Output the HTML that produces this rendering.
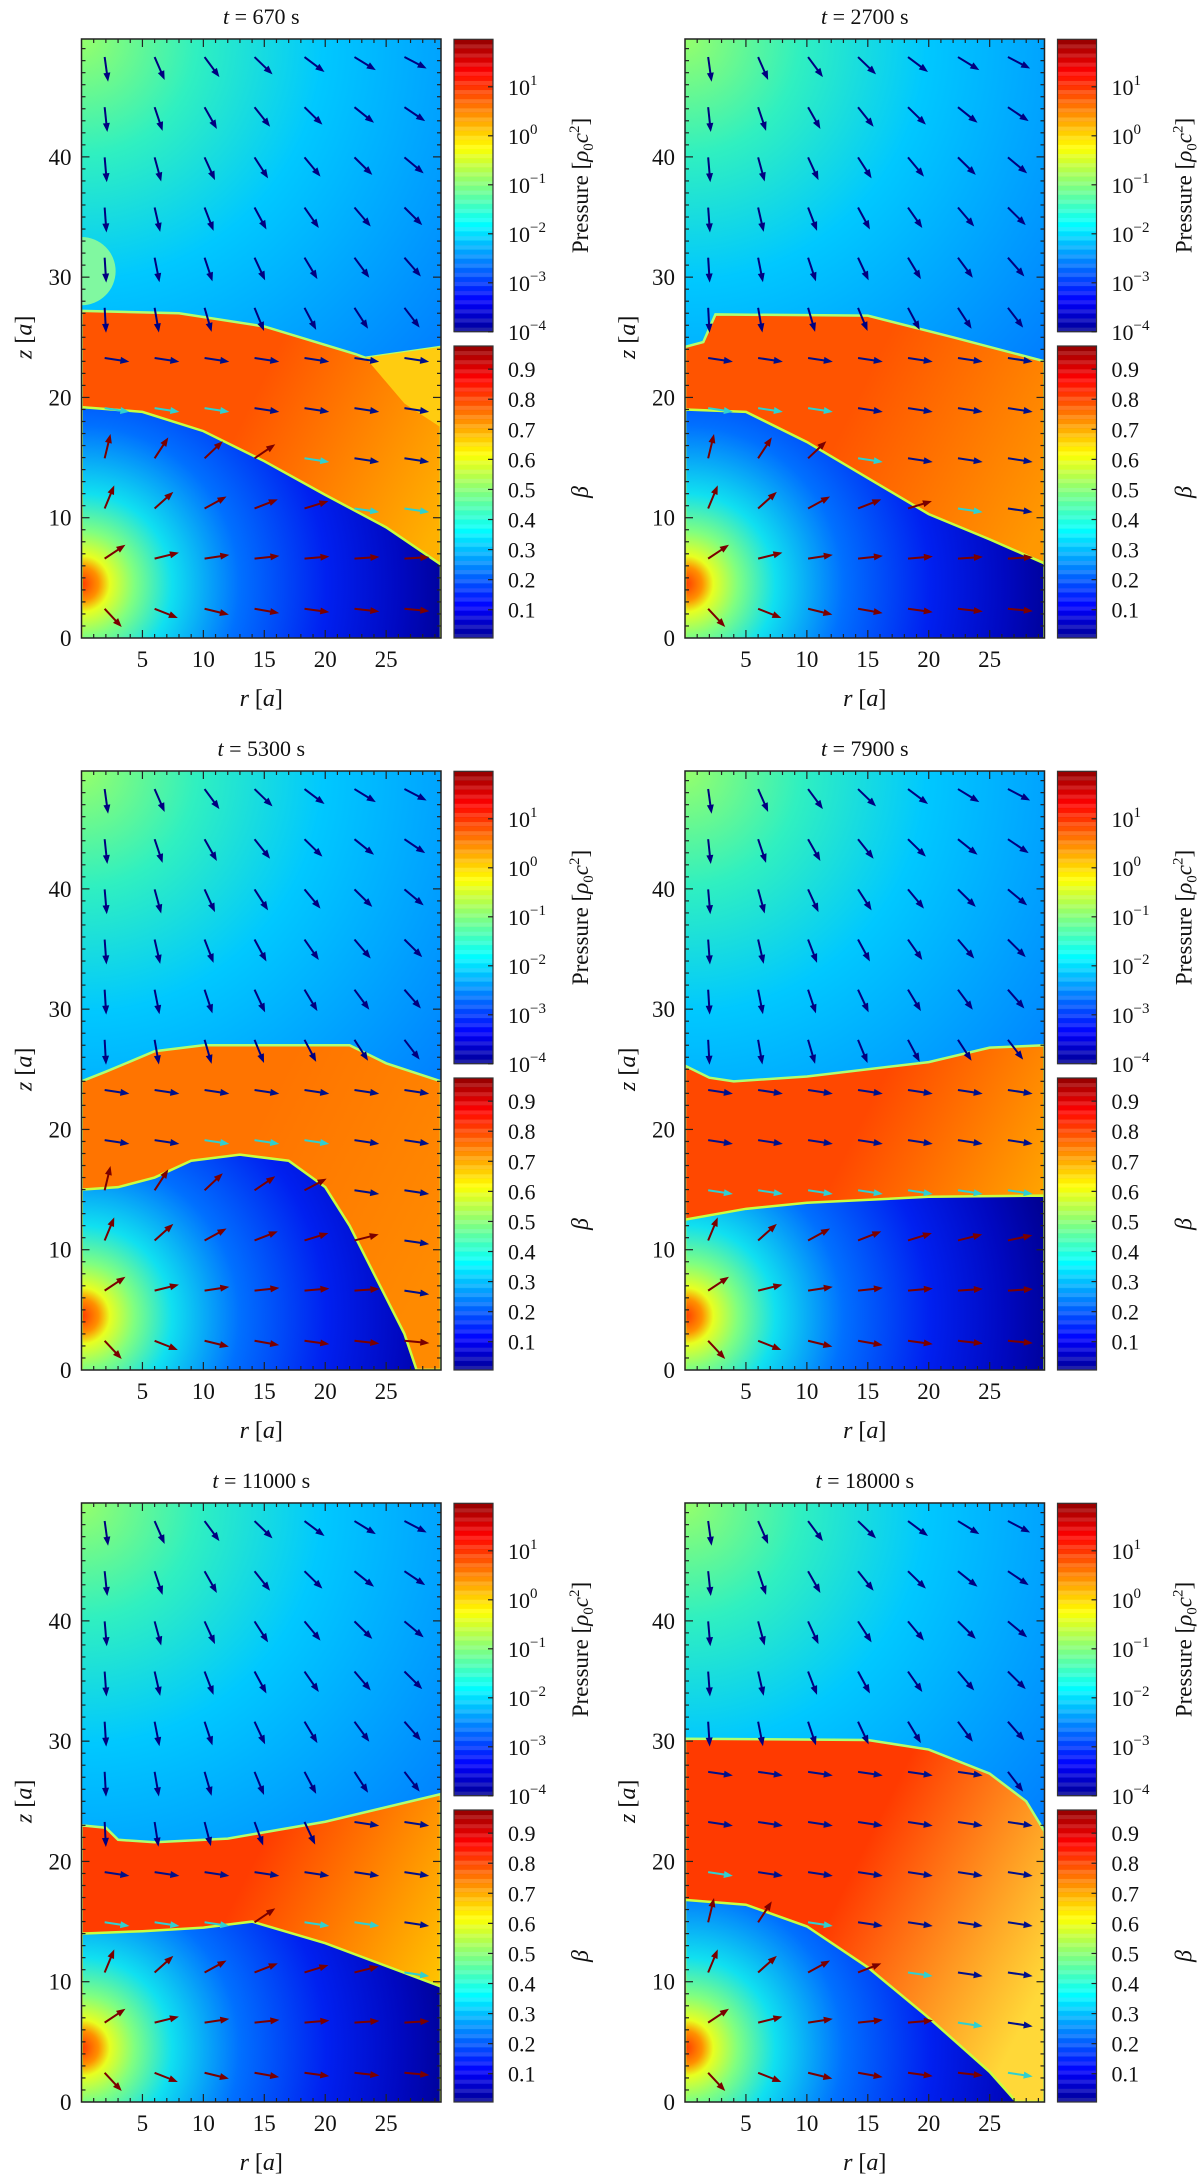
<!DOCTYPE html>
<html><head><meta charset="utf-8">
<style>
html,body{margin:0;padding:0;background:#fff;}
svg{display:block;}
text{font-family:"Liberation Serif",serif;fill:#111;}
</style></head>
<body>
<svg id="fig" width="1200" height="2174" viewBox="0 0 1200 2174" xmlns="http://www.w3.org/2000/svg">
<defs id="defs"></defs>
</svg>
<script>
// ---- data ----
const panelTitles = ["670", "2700", "5300", "7900", "11000", "18000"];
const upperEdges = [
  [[0,27.2],[8,27],[15,25.9],[22.5,23.6],[23.3,23.3],[29.5,24.2]],
  [[0,24.2],[1.5,24.6],[2.5,26.9],[15,26.8],[22,25],[29.5,23]],
  [[0,24],[2,24.8],[6,26.5],[10,27],[22,27],[25,25.5],[29.5,24]],
  [[0,25.3],[2,24.3],[4,24],[10,24.4],[20,25.6],[25,26.8],[29.5,27]],
  [[0,23],[2,22.8],[3,21.8],[6,21.6],[12,21.9],[20,23.3],[29.5,25.6]],
  [[0,30.2],[15,30.1],[20,29.3],[25,27.3],[28,25],[29.5,22.5]]
];
const lowerEdges = [
  [[0,19.2],[5,18.8],[10,17.2],[15,14.7],[20,11.9],[25,9.2],[29.5,6.1]],
  [[0,19],[5,18.8],[10,16.3],[15,13.3],[20,10.3],[25,8.2],[29.5,6.2]],
  [[0,15],[3,15.2],[6,16],[9,17.4],[13,17.9],[17,17.4],[20,15.2],[22,12],[24,8],[26.5,3],[27.5,0],[29.5,0]],
  [[0,12.5],[5,13.4],[10,13.9],[20,14.4],[29.5,14.5]],
  [[0,14],[5,14.2],[10,14.5],[14,15],[20,13.2],[29.5,9.6]],
  [[0,16.8],[5,16.4],[10,14.6],[15,11.2],[20,7],[25,2.5],[27.2,0],[29.5,0]]
];
const jetColorsA = ["#ff5400","#ff5400","#ff7400","#ff4800","#ff3c00","#ff3a00"];
const jetColorsB = ["#ffb000","#ff9800","#ff8a00","#ffb000","#ffc400","#ffd838"];
const pressureTicks = [1,0,-1,-2,-3,-4];
const betaTicks = [0.9,0.8,0.7,0.6,0.5,0.4,0.3,0.2,0.1];
const xTicks = [5,10,15,20,25];
const yTicks = [0,10,20,30,40];

// ---- layout ----
const NS = "http://www.w3.org/2000/svg";
const svg = document.getElementById('fig');
const defs = document.getElementById('defs');
const colX = [81.5, 685];
const rowY = [39, 771, 1503];
const PW = 359.5, PH = 599, RMAX = 29.5, ZMAX = 49.8;
function mk(tag, attrs, parent){
  const e = document.createElementNS(NS, tag);
  for (const k in attrs) e.setAttribute(k, attrs[k]);
  (parent||svg).appendChild(e);
  return e;
}
function jet(v){
  const r = Math.min(1, Math.max(0, 1.5 - Math.abs(4*v - 3)));
  const g = Math.min(1, Math.max(0, 1.5 - Math.abs(4*v - 2)));
  const b = Math.min(1, Math.max(0, 1.5 - Math.abs(4*v - 1)));
  return `rgb(${Math.round(r*255)},${Math.round(g*255)},${Math.round(b*255)})`;
}

for (let p = 0; p < 6; p++) {
  const ox = colX[p % 2], oy = rowY[Math.floor(p / 2)];
  const sx = r => ox + r / RMAX * PW;
  const sy = z => oy + PH - z / ZMAX * PH;
  const g = mk('g', {});
  
  

  // gradients
  const ug = mk('radialGradient', {id:'ug'+p, gradientUnits:'userSpaceOnUse', cx:sx(0), cy:sy(ZMAX), r:PW*1.6}, defs);
  [[0,'#96ff6a'],[0.2,'#30f0c0'],[0.42,'#00c8ff'],[0.7,'#0096ff'],[1,'#0060ff']].forEach(s=>mk('stop',{offset:s[0],'stop-color':s[1]},ug));
  const lg = mk('radialGradient', {id:'lg'+p, gradientUnits:'userSpaceOnUse', cx:sx(0), cy:sy(4.5), r:PW*1.05}, defs);
  [[0,'#ff3800'],[0.045,'#ff9000'],[0.075,'#e8ff20'],[0.14,'#80ff80'],[0.24,'#10e0f0'],[0.42,'#0070ff'],[0.65,'#0020f0'],[0.85,'#0008c0'],[1,'#000090']].forEach(s=>mk('stop',{offset:s[0],'stop-color':s[1]},lg));
  const jg = mk('linearGradient', {id:'jg'+p, gradientUnits:'userSpaceOnUse', x1:sx(0), y1:sy(25), x2:sx(RMAX), y2:sy(10)}, defs);
  mk('stop',{offset:0,'stop-color':jetColorsA[p]},jg);
  mk('stop',{offset:0.45,'stop-color':jetColorsA[p]},jg);
  mk('stop',{offset:1,'stop-color':jetColorsB[p]},jg);
  const cp = mk('clipPath', {id:'cp'+p}, defs);
  mk('rect', {x:ox, y:oy, width:PW, height:PH}, cp);

  const field = mk('g', {'clip-path':'url(#cp'+p+')'}, g);
  const bg = mk('rect', {x:ox, y:oy, width:PW, height:PH, fill:'url(#ug'+p+')'}, field);
  
  
  if (p === 0) {
    const blob = mk('circle', {cx:sx(0), cy:sy(30.5), r:2.8/RMAX*PW, fill:'#80f8a0'}, field);
    
    
  }
  const up = upperEdges[p], lo = lowerEdges[p];
  const jetPts = up.map(q=>sx(q[0])+','+sy(q[1])).concat([sx(RMAX)+','+sy(0), sx(0)+','+sy(0)]).join(' ');
  const jetPoly = mk('polygon', {points:jetPts, fill:'url(#jg'+p+')', stroke:'#b0ff70', 'stroke-width':2.5}, field);
  
  
  if (p === 0) {
    const w = mk('polygon', {points:[[23.3,23.3],[29.5,24.2],[29.5,17.5],[26.5,19.5]].map(q=>sx(q[0])+','+sy(q[1])).join(' '), fill:'#ffcc10'}, field);
    
    
  }
  const loPts = lo.map(q=>sx(q[0])+','+sy(q[1])).concat([sx(RMAX)+','+sy(-1), sx(0)+','+sy(-1)]).join(' ');
  const wind = mk('polygon', {points:loPts, fill:'url(#lg'+p+')', stroke:'#c8ff40', 'stroke-width':2.5}, field);
  
  

  // arrows
  function edgeAt(edge, r){
    for (let i=0;i<edge.length-1;i++){
      const a=edge[i], b=edge[i+1];
      if (r>=a[0] && r<=b[0]) return a[1]+(b[1]-a[1])*(r-a[0])/((b[0]-a[0])||1);
    }
    return edge[edge.length-1][1];
  }
  const ag = mk('g', {}, field);
  for (let i=0;i<7;i++){
    for (let j=0;j<12;j++){
      const r = 1.9 + 4.1*i, z = 48.3 - 4.17*j;
      const zu = edgeAt(up, r), zl = edgeAt(lo, r);
      let dx, dz, col;
      if (z > zu) { dx = r; dz = -(62 - z); col = '#000080'; }
      else if (z > zl) { dx = 1; dz = -0.15; col = (z < zl + 3) ? '#30d0d0' : '#00108a'; }
      else { dx = r + 0.5; dz = z - 5; col = '#7a0000'; }
      const L = Math.hypot(dx, dz), len = 25;
      const ux = dx/L, uy = -dz/L;
      const x1 = sx(r), y1 = sy(z), x2 = x1 + ux*len, y2 = y1 + uy*len;
      const a = mk('g', {}, ag);
      
      
      mk('line', {x1:x1, y1:y1, x2:x2-ux*5, y2:y2-uy*5, stroke:col, 'stroke-width':2}, a);
      const hx = x2 - ux*9, hy = y2 - uy*9;
      mk('polygon', {points:`${x2},${y2} ${hx-uy*3.5},${hy+ux*3.5} ${hx+uy*3.5},${hy-ux*3.5}`, fill:col}, a);
    }
  }

  // frame & ticks
  const fr = mk('rect', {x:ox, y:oy, width:PW, height:PH, fill:'none', stroke:'#222', 'stroke-width':1.5}, g);
  
  
  for (let r=1; r<=29; r++){
    const L = r%5===0 ? 8 : 4;
    mk('line',{x1:sx(r),y1:oy+PH,x2:sx(r),y2:oy+PH-L,stroke:'#222','stroke-width':1.2},g);
    mk('line',{x1:sx(r),y1:oy,x2:sx(r),y2:oy+L,stroke:'#222','stroke-width':1.2},g);
  }
  for (let z=1; z<=49; z++){
    const L = z%10===0 ? 8 : 4;
    mk('line',{x1:ox,y1:sy(z),x2:ox+L,y2:sy(z),stroke:'#222','stroke-width':1.2},g);
    mk('line',{x1:ox+PW,y1:sy(z),x2:ox+PW-L,y2:sy(z),stroke:'#222','stroke-width':1.2},g);
  }
  xTicks.forEach(v=>{
    const t = mk('text',{x:sx(v), y:oy+PH+29, 'font-size':23, 'text-anchor':'middle'}, g);
    t.textContent = v;
    
    
  });
  yTicks.forEach(v=>{
    const t = mk('text',{x:ox-10, y:sy(v)+8, 'font-size':23, 'text-anchor':'end'}, g);
    t.textContent = v;
    
    
  });
  const tt = mk('text',{x:ox+PW/2, y:oy-15, 'font-size':22, 'text-anchor':'middle'}, g);
  tt.innerHTML = '<tspan font-style="italic">t</tspan> = ' + panelTitles[p] + ' s';
  
  
  const xl = mk('text',{x:ox+PW/2, y:oy+PH+68, 'font-size':24, 'text-anchor':'middle'}, g);
  xl.innerHTML = '<tspan font-style="italic">r</tspan> [<tspan font-style="italic">a</tspan>]';
  
  
  const yl = mk('text',{x:0, y:0, 'font-size':24, 'text-anchor':'middle', transform:`translate(${ox-50},${sy(25)}) rotate(-90)`}, g);
  yl.innerHTML = '<tspan font-style="italic">z</tspan> [<tspan font-style="italic">a</tspan>]';
  
  

  // colorbars
  const cx0 = ox + 372.5, cw = 39;
  const pTop = oy + 0.3, pBot = oy + 292.7, bTop = oy + 307, bBot = oy + PH;
  const N = 64;
  const pc = mk('g',{},g);
  
  
  for (let k=0;k<N;k++){
    const v = (k+0.5)/N;
    mk('rect',{x:cx0, y:pBot-(k+1)*(pBot-pTop)/N, width:cw, height:(pBot-pTop)/N+0.5, fill:jet(v*0.96+0.02), opacity:(k%2?1:0.88)},pc);
  }
  mk('rect',{x:cx0,y:pTop,width:cw,height:pBot-pTop,fill:'none',stroke:'#333','stroke-width':1.2},pc);
  const dec = 49;
  const y10 = pTop + 47.5;
  pressureTicks.forEach(e=>{
    const y = y10 + (1-e)*dec;
    mk('line',{x1:cx0+cw-5,y1:y,x2:cx0+cw,y2:y,stroke:'#222','stroke-width':1.2},pc);
    const t = mk('text',{x:cx0+54, y:y+8, 'font-size':22},g);
    t.innerHTML = '10<tspan dy="-10" font-size="15">' + (e<0 ? '\u2212'+(-e) : e) + '</tspan>';
    
    
  });
  const bc = mk('g',{},g);
  
  
  for (let k=0;k<N;k++){
    const v = (k+0.5)/N;
    mk('rect',{x:cx0, y:bBot-(k+1)*(bBot-bTop)/N, width:cw, height:(bBot-bTop)/N+0.5, fill:jet(v*0.96+0.02), opacity:(k%2?1:0.88)},bc);
  }
  mk('rect',{x:cx0,y:bTop,width:cw,height:bBot-bTop,fill:'none',stroke:'#333','stroke-width':1.2},bc);
  betaTicks.forEach(v=>{
    const y = bBot - (v - 0.006)/(0.977-0.006)*(bBot-bTop);
    mk('line',{x1:cx0+cw-5,y1:y,x2:cx0+cw,y2:y,stroke:'#222','stroke-width':1.2},bc);
    const t = mk('text',{x:cx0+54, y:y+8, 'font-size':22},g);
    t.textContent = v.toFixed(1);
    
    
  });
  const pl = mk('text',{x:0,y:0,'font-size':23,'text-anchor':'middle',transform:`translate(${cx0+134},${(pTop+pBot)/2}) rotate(-90)`},g);
  pl.innerHTML = 'Pressure [<tspan font-style="italic">ρ</tspan><tspan font-size="15" dy="5">0</tspan><tspan font-style="italic" dy="-5">c</tspan><tspan font-size="15" dy="-9">2</tspan><tspan dy="9">]</tspan>';
  
  
  const bl = mk('text',{x:0,y:0,'font-size':24,'font-style':'italic','text-anchor':'middle',transform:`translate(${cx0+134},${(bTop+bBot)/2}) rotate(-90)`},g);
  bl.textContent = 'β';
  
  
}
</script>
</body></html>
